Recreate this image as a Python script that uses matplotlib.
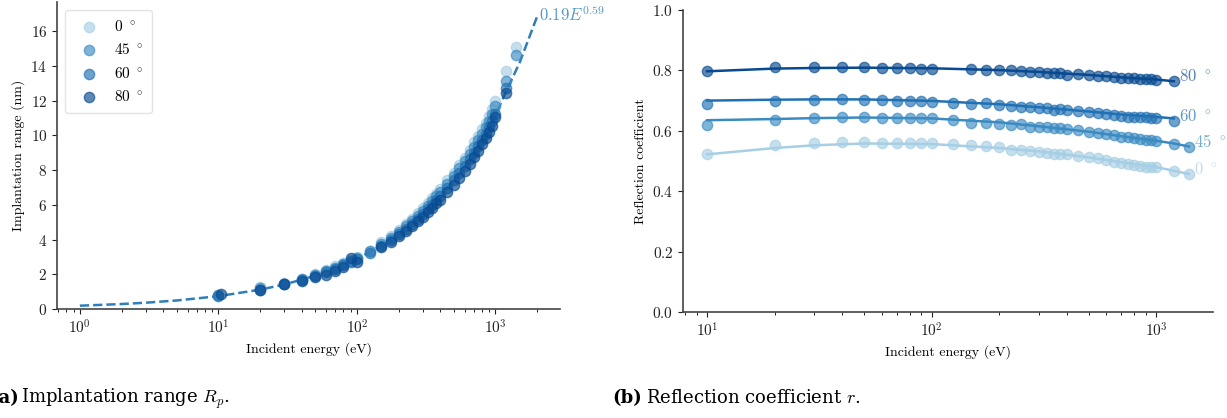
import numpy as np
import matplotlib
matplotlib.use("Agg")
import matplotlib.pyplot as plt

plt.rcParams['font.family'] = 'cmr10'
plt.rcParams['mathtext.fontset'] = 'cm'
plt.rcParams['axes.formatter.use_mathtext'] = True
plt.rcParams['axes.unicode_minus'] = False

# ---- data -------------------------------------------------------------
angles = ["0", "45", "60", "80"]
shades = [0.35, 0.65, 0.75, 0.9]

# implantation range (nm) vs incident energy (eV)
E_rp = {
    "0":  [10, 20, 30, 40, 50, 60, 70, 80, 90, 100, 125, 150, 175, 200, 225, 250, 275, 300, 325, 350,
           375, 400, 450, 500, 550, 600, 650, 700, 750, 800, 850, 900, 950, 1000, 1200, 1400],
    "45": [10, 20, 30, 40, 50, 60, 70, 80, 90, 100, 125, 150, 175, 200, 225, 250, 275, 300, 325, 350,
           375, 400, 450, 500, 550, 600, 650, 700, 750, 800, 850, 900, 950, 1000, 1200, 1400],
    "60": [10, 20, 30, 40, 50, 60, 70, 80, 90, 100, 125, 150, 175, 200, 225, 250, 275, 300, 325, 350,
           375, 400, 450, 500, 550, 600, 650, 700, 750, 800, 850, 900, 950, 1000, 1200],
    "80": [10.5, 20, 30, 40, 50, 60, 70, 80, 90, 100, 150, 175, 200, 225, 250, 275, 300, 325, 350,
           375, 400, 450, 500, 550, 600, 650, 700, 750, 800, 850, 900, 950, 1000, 1200],
}
rp = {
    "0":  [0.82, 1.28, 1.50, 1.72, 2.00, 2.25, 2.45, 2.62, 2.80, 3.02, 3.35, 3.85, 4.20, 4.55, 4.92, 5.20,
           5.52, 5.80, 6.10, 6.40, 6.62, 6.90, 7.40, 7.85, 8.30, 8.70, 9.15, 9.60, 9.95, 10.35, 10.70,
           11.10, 11.50, 12.00, 13.70, 15.10],
    "45": [0.78, 1.20, 1.46, 1.70, 1.95, 2.18, 2.38, 2.58, 2.76, 2.95, 3.32, 3.75, 4.10, 4.45, 4.78, 5.08,
           5.38, 5.65, 5.95, 6.22, 6.48, 6.72, 7.20, 7.65, 8.10, 8.50, 8.95, 9.35, 9.75, 10.10, 10.50,
           10.85, 11.25, 11.70, 13.10, 14.60],
    "60": [0.76, 1.12, 1.44, 1.66, 1.90, 2.12, 2.32, 2.52, 2.70, 2.88, 3.25, 3.60, 3.98, 4.32, 4.62, 4.92,
           5.20, 5.48, 5.75, 6.00, 6.25, 6.50, 6.95, 7.40, 7.82, 8.22, 8.62, 9.00, 9.40, 9.75, 10.10,
           10.45, 10.80, 11.20, 12.70],
    "80": [0.88, 1.08, 1.42, 1.62, 1.82, 1.98, 2.18, 2.42, 2.92, 2.72, 3.55, 3.88, 4.18, 4.48, 4.78,
           5.05, 5.30, 5.58, 5.82, 6.08, 6.30, 6.72, 7.15, 7.55, 7.95, 8.35, 8.75, 9.12, 9.50, 9.85,
           10.20, 10.55, 11.05, 12.45],
}
# fitted curve 0.19 E^0.59, sampled
E_fit = [1, 2, 3, 5, 10, 20, 30, 50, 100, 150, 200, 300, 500, 700, 1000, 1500, 2000]
rp_fit = [0.19, 0.286, 0.363, 0.491, 0.739, 1.113, 1.413, 1.911, 2.876, 3.653, 4.328, 5.499,
          7.433, 9.067, 11.187, 14.21, 16.84]

# reflection coefficient vs incident energy (eV)
E_r = {
    "0":  E_rp["0"],
    "45": E_rp["45"],
    "60": E_rp["60"],
    "80": [10, 20, 30, 40, 50, 60, 70, 80, 90, 100, 150, 175, 200, 225, 250, 275, 300, 325, 350,
           375, 400, 450, 500, 550, 600, 650, 700, 750, 800, 850, 900, 950, 1000, 1200],
}
refl = {
    "0":  [0.522, 0.553, 0.558, 0.563, 0.563, 0.560, 0.559, 0.559, 0.559, 0.558, 0.555, 0.553, 0.549,
           0.545, 0.538, 0.537, 0.534, 0.530, 0.526, 0.524, 0.523, 0.522, 0.518, 0.513, 0.509, 0.503,
           0.498, 0.493, 0.490, 0.488, 0.484, 0.481, 0.480, 0.480, 0.466, 0.457],
    "45": [0.619, 0.637, 0.644, 0.645, 0.646, 0.644, 0.643, 0.643, 0.643, 0.642, 0.636, 0.627, 0.627,
           0.623, 0.619, 0.621, 0.614, 0.612, 0.611, 0.609, 0.608, 0.605, 0.601, 0.597, 0.593, 0.590,
           0.586, 0.580, 0.579, 0.577, 0.573, 0.570, 0.569, 0.566, 0.557, 0.548],
    "60": [0.688, 0.700, 0.703, 0.704, 0.703, 0.701, 0.699, 0.698, 0.698, 0.697, 0.693, 0.690, 0.692,
           0.686, 0.682, 0.680, 0.678, 0.676, 0.674, 0.670, 0.672, 0.669, 0.665, 0.663, 0.660, 0.656,
           0.653, 0.649, 0.647, 0.647, 0.645, 0.645, 0.643, 0.643, 0.634],
    "80": [0.797, 0.810, 0.811, 0.811, 0.811, 0.808, 0.807, 0.807, 0.805, 0.805, 0.803, 0.802, 0.800,
           0.800, 0.797, 0.796, 0.795, 0.793, 0.793, 0.791, 0.786, 0.787, 0.784, 0.782, 0.780, 0.779,
           0.776, 0.774, 0.774, 0.773, 0.771, 0.770, 0.769, 0.764],
}
E_rfit = {
    "0":  [10, 20, 30, 50, 100, 200, 300, 500, 700, 1000, 1400],
    "45": [10, 20, 30, 50, 100, 200, 300, 500, 700, 1000, 1200, 1400],
    "60": [10, 20, 30, 50, 100, 200, 300, 500, 700, 1000, 1200],
    "80": [10, 20, 30, 50, 100, 200, 300, 500, 700, 1000, 1200],
}
refl_fit = {
    "0":  [0.522, 0.543, 0.552, 0.558, 0.556, 0.543, 0.532, 0.512, 0.496, 0.480, 0.457],
    "45": [0.635, 0.639, 0.642, 0.644, 0.641, 0.628, 0.615, 0.597, 0.582, 0.567, 0.558, 0.548],
    "60": [0.700, 0.703, 0.704, 0.704, 0.699, 0.688, 0.678, 0.664, 0.654, 0.646, 0.641],
    "80": [0.797, 0.806, 0.808, 0.809, 0.807, 0.801, 0.795, 0.785, 0.777, 0.770, 0.764],
}

# ---- figure -----------------------------------------------------------
fig = plt.figure(figsize=(12.27, 4.18), dpi=100)
W, H = 1227.0, 418.0
ax1 = fig.add_axes([57 / W, (H - 309) / H, 503 / W, 307 / H])
ax2 = fig.add_axes([683 / W, (H - 312) / H, 530 / W, 302 / H])

for ax in (ax1, ax2):
    ax.spines['top'].set_visible(False)
    ax.spines['right'].set_visible(False)
    for s in ('left', 'bottom'):
        ax.spines[s].set_color('#444444')
        ax.spines[s].set_linewidth(1.2)
    ax.tick_params(labelsize=11, colors='#222222')
    ax.set_xscale('log')

# left: implantation range
fitc = plt.cm.Blues(0.7)
ax1.plot(E_fit, rp_fit, '--', color=fitc, lw=1.8, zorder=1)
for a, sh in zip(angles, shades):
    ax1.scatter(E_rp[a], rp[a], s=55, color=plt.cm.Blues(sh), alpha=0.65,
                label=a + r" $^\circ$", zorder=2)
ax1.annotate(r"$0.19E^{0.59}$", (E_fit[-1], rp_fit[-1]), xytext=(1, -3),
             textcoords='offset points', color=fitc, alpha=0.8,
             fontsize=12, ha='left', va='baseline')
ax1.set_ylim(bottom=0)
ax1.set_xlabel("Incident energy (eV)", fontsize=10)
ax1.set_ylabel("Implantation range (nm)", fontsize=10)
leg = ax1.legend(loc='upper left', fontsize=11, frameon=True, borderpad=0.6,
                 handletextpad=0.6, labelspacing=0.55, borderaxespad=0.5)
leg.get_frame().set_edgecolor('#dddddd')

# right: reflection coefficient
for a, sh in zip(angles, shades):
    c = plt.cm.Blues(sh)
    ax2.plot(E_rfit[a], refl_fit[a], '-', color=c, lw=1.8, zorder=1)
    ax2.scatter(E_r[a], refl[a], s=55, color=c, alpha=0.65, zorder=2)
    ax2.annotate(a + r" $^\circ$", (E_r[a][-1], refl[a][-1]), xytext=(4, 0),
                 textcoords='offset points', color=c, alpha=0.7, fontsize=12,
                 ha='left', va='baseline')
ax2.set_ylim(0, 1.0)
ax2.set_xlabel("Incident energy (eV)", fontsize=10)
ax2.set_ylabel("Reflection coefficient", fontsize=10)

# sub-captions
cap = dict(fontsize=13, family='DejaVu Serif', va='baseline')
fig.text(-10 / W, (H - 403) / H, "(a)", fontweight='bold', **cap)
fig.text(21 / W, (H - 403) / H, r"Implantation range $R_p$.", **cap)
fig.text(612 / W, (H - 403) / H, "(b)", fontweight='bold', **cap)
fig.text(646 / W, (H - 403) / H, r"Reflection coefficient $r$.", **cap)

fig.savefig("out.png", dpi=100)
